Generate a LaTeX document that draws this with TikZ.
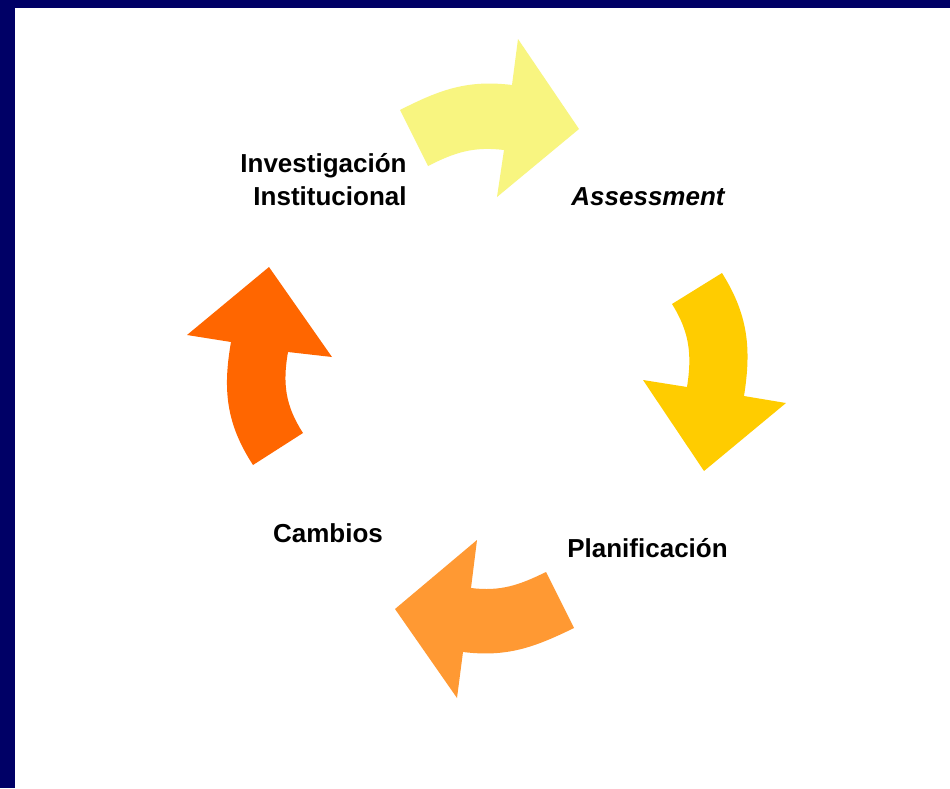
\documentclass[tikz,border=0pt]{standalone}
\usepackage{fontspec}
\setmainfont{Liberation Sans}
\definecolor{navy}{HTML}{000066}
\definecolor{paleyellow}{HTML}{F8F580}
\definecolor{gold}{HTML}{FFCC00}
\definecolor{lightorange}{HTML}{FF9933}
\definecolor{deeporange}{HTML}{FF6600}
\begin{document}
\begin{tikzpicture}[x=0.02cm,y=-0.02cm,
    stage/.style={font=\fontsize{14.8}{18.7}\selectfont\bfseries, inner sep=0pt},
    curvedarrow/.style={fill=#1, draw=none}]

    \useasboundingbox (0,0) rectangle (950,788);
    \fill[navy] (0,0) rectangle (950,788);
    \fill[white] (15,8) rectangle (950,788);

    \fill[curvedarrow=paleyellow] (400,110) to[out=27,in=173] (512,85) -- (518,39) -- (579,129)
        -- (497,197) -- (504,150) to[out=173,in=27] (428,166) -- cycle;
    \fill[curvedarrow=gold] (722,273) to[out=-58,in=81] (744,396) -- (786,403) -- (704,471)
        -- (643,380) -- (687,387) to[out=81,in=-58] (672,304) -- cycle;
    \fill[curvedarrow=lightorange] (574,628) to[out=206,in=-7] (463,652) -- (457,698) -- (395,609)
        -- (477,540) -- (471,588) to[out=-7,in=206] (546,572) -- cycle;
    \fill[curvedarrow=deeporange] (253,465) to[out=123,in=260] (231,342) -- (187,335) -- (269,267)
        -- (332,357) -- (288,352) to[out=260,in=123] (303,433) -- cycle;

    \node[stage, align=right] (invest) at (323.5,180) {Investigación\\Institucional};
    \node[stage, anchor=base] (assess) at (648,205) {\itshape Assessment};
    \node[stage, anchor=base] (plan) at (647.5,557) {Planificación};
    \node[stage, anchor=base] (cambios) at (328,542) {Cambios};
\end{tikzpicture}
\end{document}
